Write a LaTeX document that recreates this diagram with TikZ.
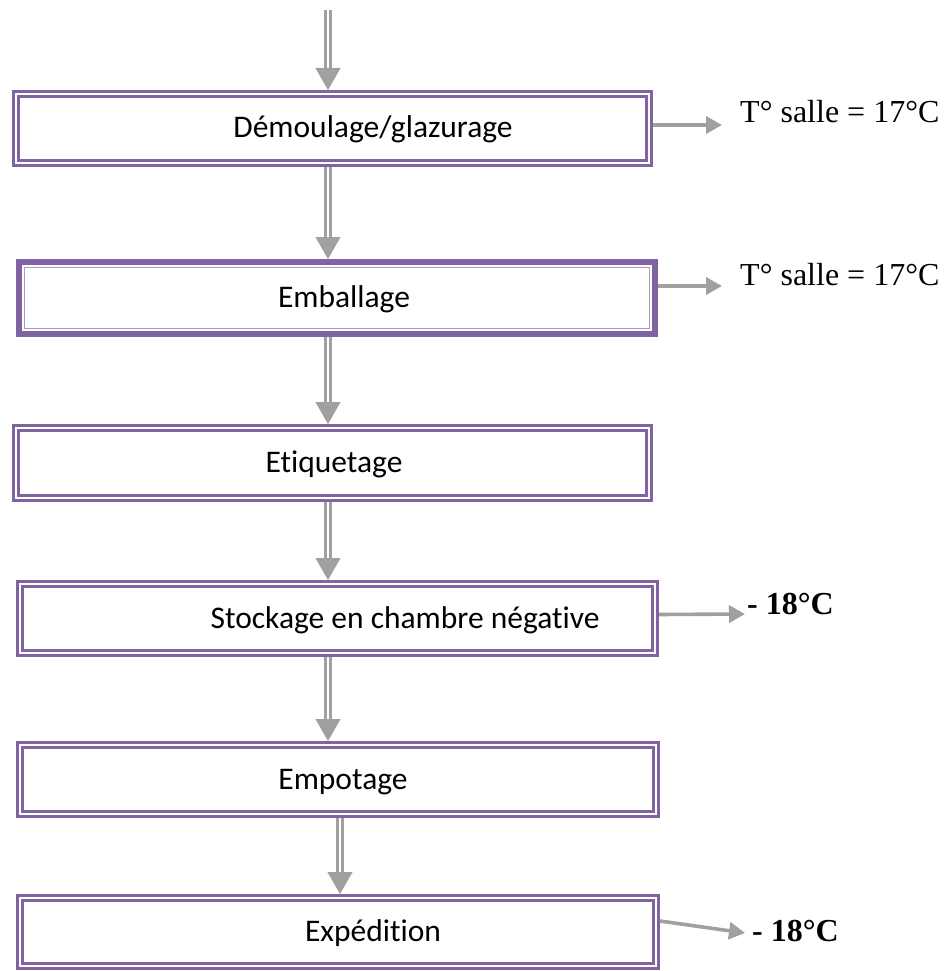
\documentclass[tikz,border=0pt]{standalone}
\usepackage{fontspec}
\setmainfont{Liberation Serif}
\newfontfamily\calibri[Ligatures=NoCommon]{Carlito}
\usetikzlibrary{arrows.meta,calc}
\definecolor{boxpurple}{HTML}{8064A2}
\definecolor{arrowgray}{HTML}{A0A0A0}
\begin{document}
\begin{tikzpicture}[x=1pt,y=-1pt,
  stepbox/.style={draw=boxpurple, line width=2.7pt, double=white, double distance=2.2pt,
    outer sep=3.8pt, inner sep=0pt},
  boxtext/.style={anchor=base, font=\calibri\fontsize{31.5}{37}\selectfont, inner sep=0pt},
  sidetext/.style={anchor=base west, font=\fontsize{32}{38}\selectfont, inner sep=0pt},
  vline/.style={draw=arrowgray, line width=2.4pt, double=white, double distance=2.8pt},
  vtip/.style={arrowgray, line width=0.4pt, -{Triangle[width=25pt,length=22pt]}},
  sarrow/.style={arrowgray, line width=3.6pt, -{Triangle[width=17pt,length=16pt]}}]
\useasboundingbox (0,0) rectangle (950,971);

% boxes
\node[stepbox, minimum width=633.4pt, minimum height=69.4pt] (b1) at (332.5,128.5) {};
\node[draw=boxpurple!65, line width=1pt, outer sep=8.5pt, inner sep=0pt,
      minimum width=625pt, minimum height=61pt] (b2) at (337,298) {};
\draw[boxpurple, line width=6pt] ([shift={(3pt,-3pt)}]b2.north west) rectangle ([shift={(-3pt,3pt)}]b2.south east);
\node[stepbox, minimum width=633.4pt, minimum height=70.4pt] (b3) at (332.5,463) {};
\node[stepbox, minimum width=635.4pt, minimum height=69.4pt] (b4) at (337.5,618.5) {};
\node[stepbox, minimum width=636.4pt, minimum height=69.4pt] (b5) at (338,779.5) {};
\node[stepbox, minimum width=636.4pt, minimum height=68.4pt] (b6) at (338,932) {};

% box texts
\node[boxtext] (l1) at (373,138) {Démoulage/glazurage};
\node[boxtext] (l2) at (344,307.5) {Emballage};
\node[boxtext] (l3) at (334,472.5) {Etiquetage};
\node[boxtext] (l4) at (405,628) {Stockage en chambre négative};
\node[boxtext] (l5) at (343,789) {Empotage};
\node[boxtext] (l6) at (373,941.5) {Expédition};

% side texts
\node[sidetext] (t1) at (740,122) {T° salle = 17°C};
\node[sidetext] (t2) at (740,285) {T° salle = 17°C};
\node[sidetext, font=\bfseries\fontsize{32}{38}\selectfont] (t3) at (747,614) {- 18°C};
\node[sidetext, font=\bfseries\fontsize{32}{38}\selectfont] (t4) at (752,941) {- 18°C};

% vertical arrows
\coordinate (ax) at (328,0);
\coordinate (bx) at (340,0);
\coordinate (top) at (328,10);
\draw[vline] (top) -- ($(ax |- b1.north)+(0,-21)$);
\draw[vtip] ($(ax |- b1.north)+(0,-22)$) -- (ax |- b1.north);
\draw[vline] (ax |- b1.south) -- ($(ax |- b2.north)+(0,-21)$);
\draw[vtip] ($(ax |- b2.north)+(0,-22)$) -- (ax |- b2.north);
\draw[vline] (ax |- b2.south) -- ($(ax |- b3.north)+(0,-21)$);
\draw[vtip] ($(ax |- b3.north)+(0,-22)$) -- (ax |- b3.north);
\draw[vline] (ax |- b3.south) -- ($(ax |- b4.north)+(0,-21)$);
\draw[vtip] ($(ax |- b4.north)+(0,-22)$) -- (ax |- b4.north);
\draw[vline] (ax |- b4.south) -- ($(ax |- b5.north)+(0,-21)$);
\draw[vtip] ($(ax |- b5.north)+(0,-22)$) -- (ax |- b5.north);
\draw[vline] (bx |- b5.south) -- ($(bx |- b6.north)+(0,-21)$);
\draw[vtip] ($(bx |- b6.north)+(0,-22)$) -- (bx |- b6.north);

% side arrows
\draw[sarrow] ([yshift=3.5pt]b1.east) -- ([xshift=-18pt,yshift=-3pt]t1.base west);
\draw[sarrow] ([yshift=12pt]b2.east) -- ([xshift=-18pt,yshift=-1pt]t2.base west);
\draw[sarrow] ([yshift=4pt]b4.east) -- ([xshift=-2pt,yshift=0pt]t3.base west);
\draw[sarrow] ([yshift=11pt]b6.east) -- ([xshift=-7pt,yshift=8pt]t4.base west);
\end{tikzpicture}
\end{document}
